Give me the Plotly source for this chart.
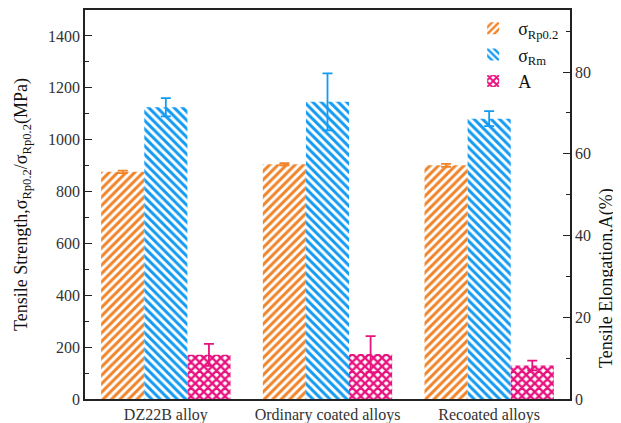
import plotly.graph_objects as go

categories = ["DZ22B alloy", "Ordinary coated alloys", "Recoated alloys"]
rp02 = [876, 905, 901]
rp02_err = [5, 4, 6]
rm = [1125, 1146, 1081]
rm_err = [35, 110, 29]
elong = [10.8, 11.0, 8.2]
elong_err = [2.7, 4.4, 1.2]

ORANGE = "#F0842A"
BLUE = "#139AF2"
PINK = "#E8127E"
FONT = "Liberation Serif"
AX = "#222"

fig = go.Figure()
fig.add_trace(go.Bar(
    x=categories, y=rp02, name="σ<sub>Rp0.2</sub>", offsetgroup="1", yaxis="y",
    marker=dict(color="white", line=dict(width=0),
                pattern=dict(shape="/", fgcolor=ORANGE, bgcolor="white", fgopacity=1,
                             size=6, solidity=0.5)),
    error_y=dict(type="data", array=rp02_err, color=ORANGE, thickness=1.8, width=5),
))
fig.add_trace(go.Bar(
    x=categories, y=rm, name="σ<sub>Rm</sub>", offsetgroup="2", yaxis="y",
    marker=dict(color="white", line=dict(width=0),
                pattern=dict(shape="\\", fgcolor=BLUE, bgcolor="white", fgopacity=1,
                             size=6, solidity=0.5)),
    error_y=dict(type="data", array=rm_err, color=BLUE, thickness=1.8, width=5),
))
fig.add_trace(go.Bar(
    x=categories, y=elong, name="A", offsetgroup="3", yaxis="y2",
    marker=dict(color="white", line=dict(width=0),
                pattern=dict(shape="x", fgcolor=PINK, bgcolor="white", fgopacity=1,
                             size=6, solidity=0.65)),
    error_y=dict(type="data", array=elong_err, color=PINK, thickness=1.8, width=5),
))

fig.update_layout(
    width=613, height=415,
    margin=dict(l=77, r=51, t=2, b=24, autoexpand=False),
    paper_bgcolor="white", plot_bgcolor="white",
    barmode="group", bargap=0.2, bargroupgap=0,
    font=dict(family=FONT, size=16, color="#333"),
    showlegend=True,
    legend=dict(x=0.79, y=1.0, xanchor="left", yanchor="top", bgcolor="rgba(0,0,0,0)",
                font=dict(family=FONT, size=18, color="#111"), itemwidth=40, tracegroupgap=0),
    xaxis=dict(showline=True, linecolor=AX, linewidth=1.5, mirror=True, ticks="",
               tickfont=dict(family=FONT, size=16), showgrid=False, automargin=False),
    yaxis=dict(range=[0, 1500], tickvals=[0, 200, 400, 600, 800, 1000, 1200, 1400],
               showline=True, linecolor=AX, linewidth=1.5, ticks="inside", ticklen=7,
               tickcolor=AX, tickwidth=1.2,
               minor=dict(ticks="inside", ticklen=4, dtick=100, tickcolor=AX, tickwidth=1.2),
               showgrid=False, zeroline=False, automargin=False,
               title=dict(text="Tensile Strength,σ<sub>Rp0.2</sub>/σ<sub>Rp0.2</sub>(MPa)",
                          font=dict(family=FONT, size=18, color="#111"), standoff=16),
               tickfont=dict(family=FONT, size=16)),
    yaxis2=dict(range=[0, 95.2], tickvals=[0, 20, 40, 60, 80], overlaying="y", side="right",
                showline=True, linecolor=AX, linewidth=1.5, ticks="inside", ticklen=7,
                tickcolor=AX, tickwidth=1.2,
                minor=dict(ticks="inside", ticklen=4, dtick=10, tickcolor=AX, tickwidth=1.2),
                showgrid=False, zeroline=False, automargin=False,
                tickfont=dict(family=FONT, size=16)),
    annotations=[dict(text="Tensile Elongation,A(%)", textangle=-90, showarrow=False,
                      xref="paper", yref="paper", x=1.0, xshift=36, y=0.311,
                      xanchor="center", yanchor="middle",
                      font=dict(family=FONT, size=18, color="#111"))],
)

fig.write_html("out.html")
